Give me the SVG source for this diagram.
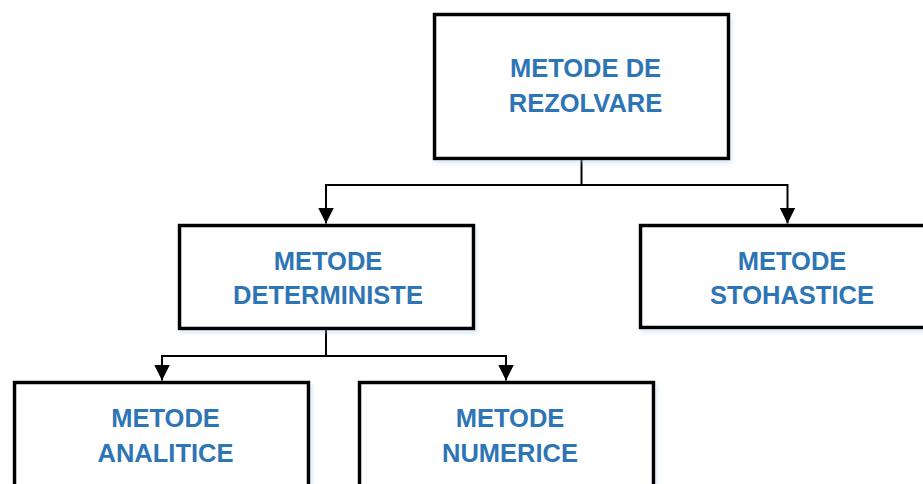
<svg xmlns="http://www.w3.org/2000/svg" width="923" height="484" viewBox="0 0 923 484">
<defs>
<style>
.box{fill:#ffffff;stroke:#000000;stroke-width:3.5;filter:url(#sh)}
.lbl{font-family:"Liberation Sans",Arial,sans-serif;font-weight:bold;font-size:25.5px;fill:#2E75B6;text-anchor:middle}
.con{fill:none;stroke:#000000;stroke-width:2}
</style>
<filter id="sh" x="-10%" y="-10%" width="130%" height="130%">
<feDropShadow dx="2" dy="3" stdDeviation="2" flood-color="#9DC3E6" flood-opacity="0.35"/>
</filter>
<marker id="arr" markerUnits="userSpaceOnUse" markerWidth="16" markerHeight="16" refX="8" refY="16" orient="auto-start-reverse" viewBox="0 0 16 16">
<path d="M0,0 L16,0 L8,16 Z" fill="#000000" transform="rotate(-90 8 8)"/>
</marker>
<marker id="ah" markerUnits="userSpaceOnUse" markerWidth="16" markerHeight="16" refX="16" refY="8" orient="auto" viewBox="0 0 16 16">
<path d="M0,0 L16,8 L0,16 Z" fill="#000000"/>
</marker>
</defs>
<g id="connectors">
<path class="con" d="M581.5,158 V185 H326 V223.5" marker-end="url(#ah)"/>
<path class="con" d="M581.5,185 H787.5 V223.5" marker-end="url(#ah)"/>
<path class="con" d="M326,328 V356 H162 V380.5" marker-end="url(#ah)"/>
<path class="con" d="M326,356 H506 V380.5" marker-end="url(#ah)"/>
</g>
<g id="node-rezolvare">
<rect class="box" x="434.5" y="14.5" width="294" height="144"/>
<text class="lbl" x="585.5" y="77">METODE DE</text>
<text class="lbl" x="585.5" y="111.5">REZOLVARE</text>
</g>
<g id="node-deterministe">
<rect class="box" x="179.5" y="225.5" width="294" height="103"/>
<text class="lbl" x="328" y="270">METODE</text>
<text class="lbl" x="328" y="304">DETERMINISTE</text>
</g>
<g id="node-stohastice">
<rect class="box" x="640.5" y="225.5" width="304" height="102"/>
<text class="lbl" x="792" y="270">METODE</text>
<text class="lbl" x="792" y="304">STOHASTICE</text>
</g>
<g id="node-analitice">
<rect class="box" x="14.5" y="382.5" width="294" height="120"/>
<text class="lbl" x="165.5" y="427">METODE</text>
<text class="lbl" x="165.5" y="462">ANALITICE</text>
</g>
<g id="node-numerice">
<rect class="box" x="359.5" y="382.5" width="294" height="120"/>
<text class="lbl" x="510" y="427">METODE</text>
<text class="lbl" x="510" y="462">NUMERICE</text>
</g>
</svg>
